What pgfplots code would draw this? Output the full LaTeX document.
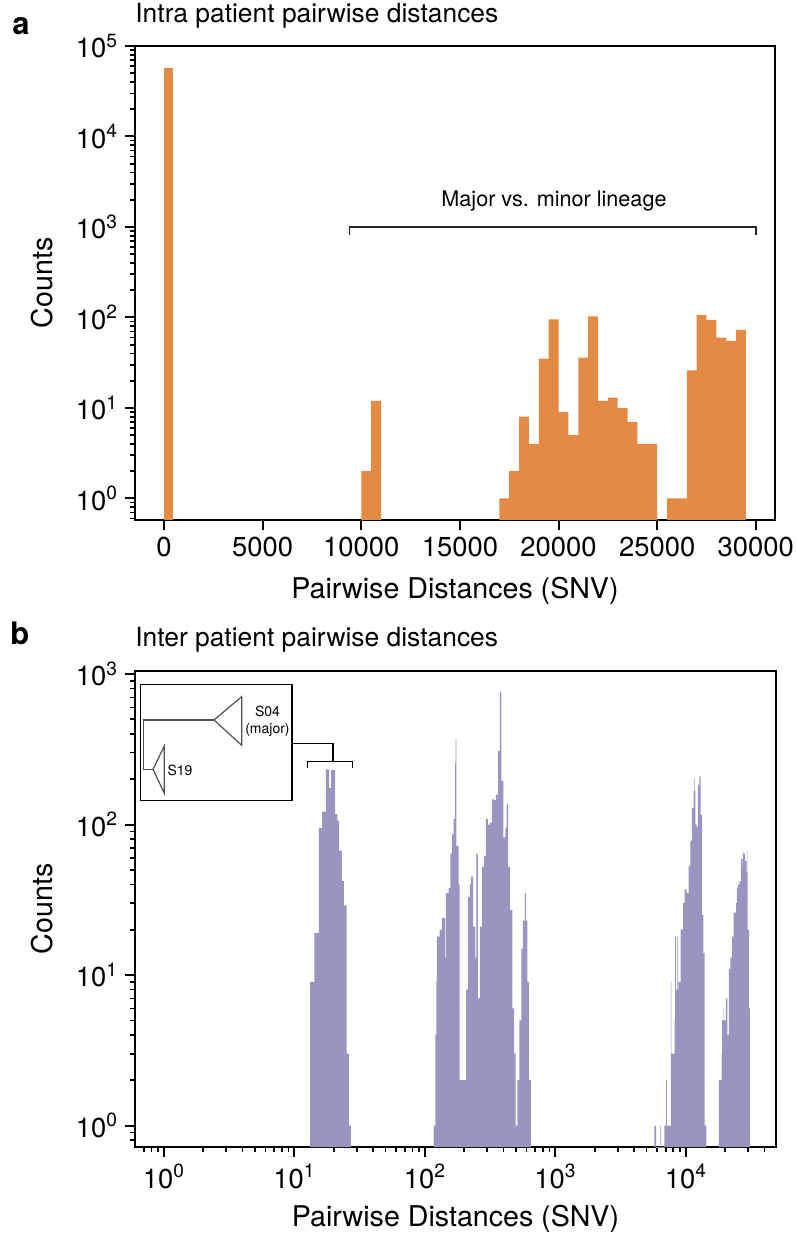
\documentclass[border=0pt]{standalone}
\usepackage{fontspec}
\setmainfont{TeX Gyre Heros}
\usepackage{pgfplots}
\pgfplotsset{compat=1.18}
\definecolor{orangebar}{RGB}{228,138,69}
\definecolor{purplebar}{RGB}{152,150,192}
\definecolor{treegray}{RGB}{80,80,80}
\begin{document}
\begin{tikzpicture}
\useasboundingbox (-67.5pt,-357pt) rectangle (330.5pt,260pt);
\pgfplotsset{
  common/.style={
    scale only axis,
    axis line style={line width=1.2pt},
    tick align=outside,
    tick pos=left,
    major tick length=5pt,
    minor tick length=2.5pt,
    major tick style={line width=1pt, black},
    minor tick style={line width=0.8pt, black},
    tick label style={font=\fontsize{13.7}{15}\selectfont},
    label style={font=\fontsize{14.3}{16}\selectfont},
    title style={at={(axis description cs:0,1)}, anchor=base west, inner xsep=0pt, font=\fontsize{13.2}{15}\selectfont},
    xlabel style={at={(axis description cs:0.5,0)}, anchor=base, yshift=-39.5pt},
    /pgf/number format/assume math mode=true,
    /pgf/number format/1000 sep={},
    log number format basis/.code 2 args={10\textsuperscript{\pgfmathprintnumber{##2}}},
    log origin=infty,
    clip=true,
  }
}
% ---------------- panel a ----------------
\begin{axis}[common, at={(0,0)}, anchor=south west,
  width=320pt, height=237pt,
  xmin=-1475, xmax=30975, ymode=log, ymin=0.578, ymax=1e5,
  xtick={0,5000,10000,15000,20000,25000,30000}, scaled x ticks=false,
  ytick={1,10,100,1000,10000,100000},
  minor ytick={0.6,0.7,0.8,0.9,2,3,4,5,6,7,8,9,20,30,40,50,60,70,80,90,200,300,400,500,600,700,800,900,2000,3000,4000,5000,6000,7000,8000,9000,20000,30000,40000,50000,60000,70000,80000,90000},
  title={Intra patient pairwise distances},
  title style={yshift=5.7pt},
  xlabel={Pairwise Distances (SNV)},
  ylabel={Counts},
  ylabel style={at={(axis description cs:-0.145,0.5)}, anchor=center},
]
\addplot[ybar interval, fill=orangebar, draw=none] coordinates {(0,57700)(470,57700)};
\addplot[ybar interval, fill=orangebar, draw=none] coordinates {(10000,2)(10500,12)(11000,12)};
\addplot[ybar interval, fill=orangebar, draw=none] coordinates {
(17000,1)(17500,2)(18000,8)(18500,4)(19000,35)(19500,95)(20000,9)(20500,5)(21000,36)(21500,103)
(22000,12)(22500,13)(23000,10)(23500,7)(24000,4)(24500,4)(25000,4)};
\addplot[ybar interval, fill=orangebar, draw=none] coordinates {
(25500,1)(26000,1)(26500,26)(27000,106)(27500,94)(28000,60)(28500,55)(29000,73)(29500,73)};
\draw[line width=0.8pt, black!85] (axis cs:9400,808) -- (axis cs:9400,1000) -- (axis cs:30000,1000) -- (axis cs:30000,808);
\node[font=\fontsize{10.8}{12}\selectfont] at (axis cs:19770,1914) {Major vs. minor lineage};
\end{axis}
% ---------------- panel b ----------------
\begin{axis}[common, at={(0,-313.5pt)}, anchor=south west,
  width=320.5pt, height=238pt,
  xmode=log, ymode=log, xmin=0.6, xmax=49000, ymin=0.72, ymax=1047,
  xtick={1,10,100,1000,10000},
  ytick={1,10,100,1000},
  minor xtick={0.7,0.8,0.9,2,3,4,5,6,7,8,9,20,30,40,50,60,70,80,90,200,300,400,500,600,700,800,900,2000,3000,4000,5000,6000,7000,8000,9000,20000,30000,40000},
  minor ytick={0.8,0.9,2,3,4,5,6,7,8,9,20,30,40,50,60,70,80,90,200,300,400,500,600,700,800,900},
  title={Inter patient pairwise distances},
  title style={yshift=6.3pt},
  xlabel={Pairwise Distances (SNV)},
  ylabel={Counts},
  ylabel style={at={(axis description cs:-0.145,0.5)}, anchor=center},
]
\addplot[ybar interval, fill=purplebar, draw=none] coordinates {
(13.2,9)(14.2,19)(15.4,95)(16.3,122)(17.4,232)(18.46,175)(19.12,230)(20.5,117)(21.3,106)(22,67)
(23.1,42)(23.9,29)(25.1,3)(26.2,1)(27.1,1)};
\addplot[ybar interval, fill=purplebar, draw=none] coordinates {
(116.5,1)(120,4)(121.5,9)(122.5,4)(123.6,18)(129.6,20)(131,4)(132,20)(135,24)(143,13)(144.5,35)
(152,38)(156.5,64)(161,86)(166,109)(170,257)(171.5,370)(174,72)(181.5,40)(184.6,2)(207,8)(213,33)
(221,40)(226,45)(234,21)(243,13)(248,64)(254,7)(263.5,21)(273,52)(283,62)(293,109)(304,100)
(315,103)(326,147)(338,145)(350,158)(363,307)(375,760)(385,194)(399,82)(413,95)(423,136)(433,52)
(449,27)(468,6)(482,3)(496,1)(511,2)(530,5)(549,15)(562,23)(582,35)(596,23)(610,9)(625,2)(647,2)};
\addplot[ybar interval, fill=purplebar, draw=none] coordinates {
(5740,1)(5900,0.01)(6380,1)(6460,0.01)(6850,1)(7050,2)(7150,1)(7650,9)(7750,3)(8180,5)(8280,18)
(8360,5)(8420,8)(8600,18)(8700,8)(8780,9)(9100,20)(9480,30)(9760,37)(10110,35)(10480,53)(10800,78)
(11120,129)(11450,167)(11550,202)(11650,167)(11800,100)(12080,96)(12370,184)(12670,209)(12980,116)
(13290,25)(13600,14)(13930,1)(14340,1)};
\addplot[ybar interval, fill=purplebar, draw=none] coordinates {
(17840,2)(18380,2)(18650,3)(18800,2)(18930,5)(19450,6)(19620,5)(20200,7)(20810,4)(21320,11)
(21950,13)(22480,18)(23150,26)(23840,26)(24200,30)(24550,38)(25130,40)(25760,42)(26370,59)
(27030,52)(27300,66)(27500,52)(27700,64)(28380,57)(29030,48)(29300,67)(29500,48)(29740,20)
(30440,6)(30970,6)};
% inset tree
\draw[line width=0.6pt, black] (rel axis cs:0.0089,0.7275) rectangle (rel axis cs:0.2449,0.9721);
\draw[line width=0.6pt, treegray] (rel axis cs:0.01295,0.8971) -- (rel axis cs:0.01295,0.7935);
\draw[line width=0.6pt, treegray] (rel axis cs:0.01295,0.8971) -- (rel axis cs:0.1232,0.8971);
\draw[line width=0.6pt, treegray] (rel axis cs:0.1232,0.8971) -- (rel axis cs:0.1664,0.946) -- (rel axis cs:0.1664,0.8439) -- cycle;
\draw[line width=0.6pt, treegray] (rel axis cs:0.01295,0.7935) -- (rel axis cs:0.0281,0.7935);
\draw[line width=0.6pt, treegray] (rel axis cs:0.0281,0.7935) -- (rel axis cs:0.0457,0.8424) -- (rel axis cs:0.0457,0.7431) -- cycle;
\node[font=\fontsize{7}{8}\selectfont] at (rel axis cs:0.2067,0.9145) {S04};
\node[font=\fontsize{7}{8}\selectfont] at (rel axis cs:0.2067,0.876) {(major)};
\node[font=\fontsize{7}{8}\selectfont] at (rel axis cs:0.0702,0.792) {S19};
\draw[line width=0.6pt, black] (rel axis cs:0.2449,0.8473) -- (rel axis cs:0.3089,0.8473) -- (rel axis cs:0.3089,0.8095);
\draw[line width=0.6pt, black] (rel axis cs:0.2694,0.7968) -- (rel axis cs:0.2694,0.8095) -- (rel axis cs:0.3396,0.8095) -- (rel axis cs:0.3396,0.7968);
\end{axis}
\node[anchor=base west, inner sep=0pt, font=\bfseries\fontsize{15.5}{17}\selectfont] at (-61.5pt,242.85pt) {a};
\node[anchor=base west, inner sep=0pt, font=\bfseries\fontsize{15.5}{17}\selectfont] at (-62.5pt,-62.5pt) {b};
\end{tikzpicture}
\end{document}
